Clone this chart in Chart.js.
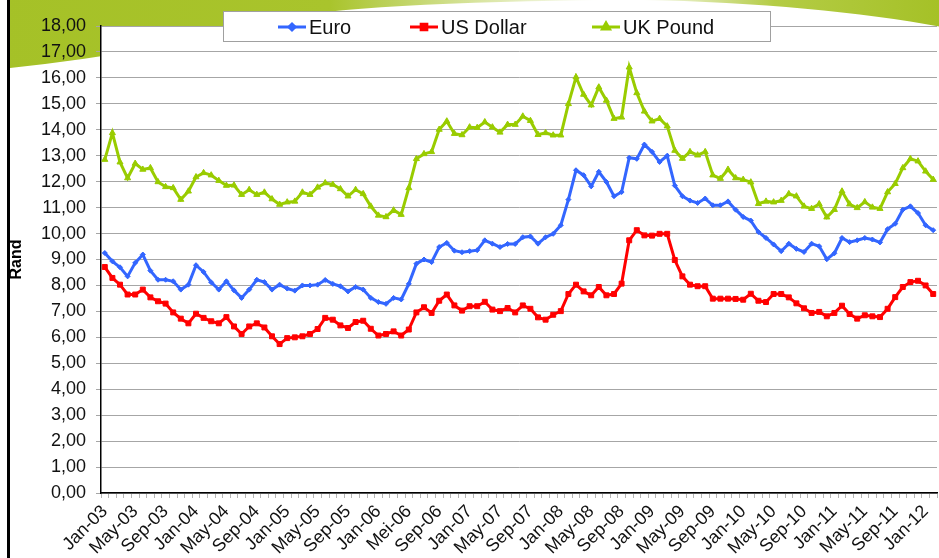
<!DOCTYPE html>
<html>
<head>
<meta charset="utf-8">
<script src="https://cdn.jsdelivr.net/npm/chart.js@4.4.1/dist/chart.umd.min.js"></script>
<style>
  html, body { margin: 0; padding: 0; background: #fff; overflow: hidden; }
  #wrap { position: relative; width: 942px; height: 558px; }
</style>
</head>
<body>
<div id="wrap"><canvas id="grafico"></canvas></div>
<script>
// maande Jan-03 .. Feb-12
const maande = ['Jan','Feb','Mar','Apr','May','Jun','Jul','Aug','Sep','Oct','Nov','Dec'];
const jare = ['03','04','05','06','07','08','09','10','11','12'];
const maandTelling = 110;

const euro = [
  9.25, 8.93, 8.70, 8.35, 8.87, 9.19, 8.57, 8.22, 8.22, 8.16, 7.84, 8.03,
  8.78, 8.52, 8.12, 7.84, 8.16, 7.81, 7.52, 7.84, 8.22, 8.13, 7.84, 8.03,
  7.88, 7.80, 8.00, 8.00, 8.03, 8.21, 8.06, 7.97, 7.77, 7.94, 7.84, 7.52,
  7.36, 7.29, 7.52, 7.46, 8.06, 8.84, 9.00, 8.90, 9.48, 9.64, 9.34, 9.28,
  9.32, 9.36, 9.74, 9.61, 9.48, 9.60, 9.60, 9.86, 9.89, 9.61, 9.86, 9.99,
  10.32, 11.31, 12.44, 12.25, 11.82, 12.38, 11.99, 11.44, 11.60, 12.92, 12.88, 13.43,
  13.15, 12.76, 13.00, 11.85, 11.44, 11.27, 11.18, 11.35, 11.09, 11.09, 11.24, 10.92,
  10.64, 10.50, 10.06, 9.83, 9.58, 9.32, 9.61, 9.41, 9.29, 9.61, 9.51, 9.01,
  9.24, 9.83, 9.67, 9.74, 9.83, 9.77, 9.66, 10.17, 10.38, 10.92, 11.05, 10.79,
  10.32, 10.13
];
const usDollar = [
  8.71, 8.29, 8.03, 7.65, 7.65, 7.84, 7.54, 7.39, 7.30, 6.96, 6.72, 6.54,
  6.91, 6.75, 6.62, 6.54, 6.78, 6.42, 6.13, 6.42, 6.54, 6.38, 6.04, 5.74,
  5.97, 6.00, 6.04, 6.13, 6.32, 6.75, 6.68, 6.46, 6.36, 6.59, 6.64, 6.33,
  6.07, 6.13, 6.23, 6.07, 6.30, 6.96, 7.16, 6.94, 7.41, 7.65, 7.23, 7.03,
  7.20, 7.20, 7.37, 7.07, 7.01, 7.13, 6.96, 7.23, 7.10, 6.77, 6.68, 6.87,
  7.01, 7.67, 8.03, 7.77, 7.62, 7.94, 7.62, 7.67, 8.07, 9.74, 10.13, 9.93,
  9.92, 9.99, 9.99, 8.98, 8.35, 8.03, 7.97, 7.97, 7.49, 7.49, 7.49, 7.48,
  7.45, 7.68, 7.41, 7.36, 7.67, 7.67, 7.54, 7.31, 7.12, 6.94, 6.98, 6.81,
  6.94, 7.22, 6.90, 6.72, 6.85, 6.81, 6.78, 7.10, 7.55, 7.94, 8.13, 8.18,
  8.00, 7.67
];
const ukPound = [
  12.85, 13.88, 12.75, 12.14, 12.70, 12.47, 12.53, 11.99, 11.80, 11.76, 11.31, 11.63,
  12.18, 12.34, 12.25, 12.04, 11.85, 11.86, 11.50, 11.69, 11.50, 11.59, 11.33, 11.12,
  11.21, 11.24, 11.59, 11.50, 11.78, 11.95, 11.89, 11.72, 11.44, 11.69, 11.53, 11.05,
  10.70, 10.64, 10.90, 10.73, 11.76, 12.88, 13.07, 13.15, 14.01, 14.33, 13.85, 13.80,
  14.10, 14.08, 14.30, 14.10, 13.90, 14.20, 14.20, 14.52, 14.35, 13.81, 13.88, 13.79,
  13.79, 15.00, 16.03, 15.36, 14.95, 15.64, 15.13, 14.43, 14.48, 16.41, 15.42, 14.71,
  14.33, 14.43, 14.14, 13.20, 12.89, 13.15, 13.02, 13.15, 12.25, 12.12, 12.47, 12.14,
  12.08, 11.98, 11.15, 11.24, 11.21, 11.27, 11.53, 11.44, 11.05, 10.96, 11.14, 10.63,
  10.92, 11.63, 11.13, 10.99, 11.22, 11.01, 10.96, 11.60, 11.92, 12.53, 12.88, 12.79,
  12.40, 12.08
];

let kategorie = [];
for (let i = 0; i < maandTelling; i++) {
  kategorie.push(maande[i % 12] + '-' + jare[Math.floor(i / 12)]);
}
kategorie[40] = 'Mei-06'; // soos op die oorspronklike

const reeksNaam = ['Euro', 'US Dollar', 'UK Pound'];
const kleure = ['#3366ff', '#ff0000', '#99cc00'];
const merkers = ['rectRot', 'rect', 'triangle'];

// agtergrond: swart rand links, groen swiep bo, wit plotarea
const agtergrond = {
  id: 'agtergrond',
  beforeDraw(chart) {
    const c = chart.ctx;
    const a = chart.chartArea;
    c.save();
    c.fillStyle = '#fff';
    c.fillRect(0, 0, chart.width, chart.height);

    let g = c.createLinearGradient(0, 0, 600, 0);
    g.addColorStop(0, '#a5c127');
    g.addColorStop(0.55, '#a9c42c');
    g.addColorStop(1, 'rgba(169,196,44,0)');
    c.fillStyle = g;
    c.beginPath();
    c.moveTo(10, 0);
    c.lineTo(620, 0);
    c.quadraticCurveTo(360, 2, 270, 20);
    c.quadraticCurveTo(160, 52, 10, 68);
    c.closePath();
    c.fill();

    let g2 = c.createLinearGradient(640, 0, 939, 0);
    g2.addColorStop(0, 'rgba(169,196,44,0)');
    g2.addColorStop(0.45, '#b4cc45');
    g2.addColorStop(1, '#a5c127');
    c.fillStyle = g2;
    c.beginPath();
    c.moveTo(640, 0);
    c.lineTo(942, 0);
    c.lineTo(942, 27);
    c.bezierCurveTo(860, 12, 760, 2, 640, 0);
    c.closePath();
    c.fill();

    c.fillStyle = '#000';
    c.fillRect(7, 0, 3, chart.height);

    c.fillStyle = '#fff';
    c.fillRect(a.left, a.top, a.right - a.left, a.bottom - a.top);
    c.restore();
  }
};

// legende in 'n boks bo-oor die plot
const legende = {
  id: 'legende',
  afterDraw(chart) {
    const c = chart.ctx;
    c.save();
    c.fillStyle = '#fff';
    c.fillRect(223.5, 11.5, 547, 30);
    c.strokeStyle = '#a0a0a0';
    c.lineWidth = 1;
    c.strokeRect(223.5, 11.5, 547, 30);
    const lynX = [278, 410, 592];
    const y = 27;
    c.font = '20px "Liberation Sans", Arial, sans-serif';
    c.textBaseline = 'middle';
    for (let i = 0; i < 3; i++) {
      c.strokeStyle = kleure[i];
      c.lineWidth = 3;
      c.beginPath();
      c.moveTo(lynX[i], y);
      c.lineTo(lynX[i] + 28, y);
      c.stroke();
      Chart.helpers.drawPoint(c, {
        pointStyle: merkers[i], radius: i === 0 ? 3 : 4, rotation: 0, borderWidth: 1
      }, lynX[i] + 14, y);
      c.fillStyle = kleure[i];
      c.fill();
      c.fillStyle = '#111';
      c.fillText(reeksNaam[i], lynX[i] + 31, y + 1);
    }
    c.restore();
  }
};

const ctx = document.querySelector('#grafico');
const lettertipe = '"Liberation Sans", Arial, sans-serif';

new Chart(ctx, {
  type: 'line',
  data: {
    labels: kategorie,
    datasets: [
      { label: reeksNaam[0], data: euro },
      { label: reeksNaam[1], data: usDollar },
      { label: reeksNaam[2], data: ukPound }
    ].map((d, i) => Object.assign(d, {
      borderColor: kleure[i],
      backgroundColor: kleure[i],
      borderWidth: 3,
      pointStyle: merkers[i],
      pointRadius: i === 0 ? 2.5 : 3.5,
      pointBorderWidth: 1,
      tension: 0,
      fill: false
    }))
  },
  options: {
    responsive: true,
    maintainAspectRatio: false,
    animation: false,
    layout: { padding: { top: 26, left: 0, right: 0, bottom: 0 } },
    plugins: {
      legend: { display: false },
      tooltip: { enabled: false }
    },
    scales: {
      x: {
        offset: true,
        grid: {
          drawOnChartArea: false,
          drawTicks: true,
          tickLength: 5,
          color: '#b5b5b5',
          offset: true
        },
        border: { color: '#000', width: 1.5 },
        ticks: {
          autoSkip: false,
          maxRotation: 45,
          minRotation: 45,
          padding: 3,
          color: '#111',
          font: { family: lettertipe, size: 18 },
          callback: function (v, i) { return i % 4 === 0 ? kategorie[i] : ''; }
        },
        afterFit(s) { s.height = 65; s.paddingLeft = 0; s.paddingRight = 0; }
      },
      y: {
        min: 0,
        max: 18,
        grid: { color: '#a6a6a6', lineWidth: 1, tickLength: 5 },
        border: { color: '#000', width: 1.5 },
        ticks: {
          stepSize: 1,
          padding: 10,
          color: '#111',
          font: { family: lettertipe, size: 18 },
          callback: v => v.toFixed(2).replace('.', ',')
        },
        title: {
          display: true,
          text: 'Rand',
          color: '#000',
          font: { family: lettertipe, size: 16, weight: 'bold' },
          padding: { top: 7, bottom: 0 }
        },
        afterFit(s) { s.width = 101; s.paddingTop = 0; s.paddingBottom = 0; }
      }
    }
  },
  plugins: [agtergrond, legende]
});
</script>
</body>
</html>
